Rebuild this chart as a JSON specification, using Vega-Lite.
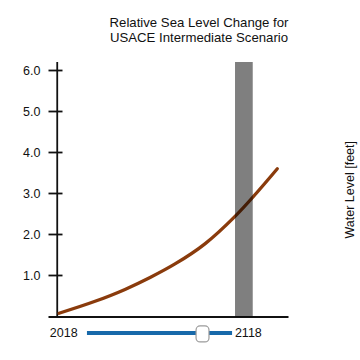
{
  "$schema": "https://vega.github.io/schema/vega-lite/v6.json",
  "autosize": {"type": "none"},
  "width": 240,
  "height": 254.5,
  "padding": {"left": 48, "top": 62, "right": 72, "bottom": 43.5},
  "background": "white",
  "config": {
    "font": "Liberation Sans",
    "view": {"stroke": null},
    "axis": {"grid": false, "labelColor": "#111", "titleColor": "#111", "labelFont": "Liberation Sans", "titleFont": "Liberation Sans"}
  },
  "title": {
    "text": ["Relative Sea Level Change for", "USACE Intermediate Scenario"],
    "fontSize": 13.2,
    "fontWeight": "normal",
    "color": "#111",
    "lineHeight": 15,
    "anchor": "middle",
    "frame": "group",
    "dx": 31,
    "offset": 16
  },
  "datasets": {
    "curve": [
      {"year": 2019.0, "level": 0.08},
      {"year": 2038.5, "level": 0.37},
      {"year": 2054.7, "level": 0.66},
      {"year": 2068.3, "level": 0.95},
      {"year": 2081.8, "level": 1.28},
      {"year": 2098.0, "level": 1.77},
      {"year": 2114.3, "level": 2.44},
      {"year": 2137.2, "level": 3.60}
    ],
    "axisline": [{"year": 2018, "y0": 0, "y1": 6.2}],
    "bar": [{"start": 2114.3, "end": 2123.9, "y0": 0, "y1": 6.2}],
    "slider": [{"start": 2034.1, "end": 2112.7, "pos": -0.4}],
    "knob": [{"start": 2093.2, "end": 2100.2, "low": -0.62, "high": -0.23}]
  },
  "resolve": {"axis": {"y": "independent"}},
  "layer": [
    {
      "data": {"name": "axisline"},
      "mark": {"type": "rule", "color": "#111", "strokeWidth": 1.8},
      "encoding": {
        "x": {"field": "year", "type": "quantitative", "scale": {"domain": [2013, 2143], "nice": false, "zero": false},
              "axis": {"title": null, "values": [2018, 2118], "format": "d", "tickSize": 0, "domainColor": "#111", "domainWidth": 1.8, "labelFontSize": 12.5, "labelPadding": 10, "labelOffset": 6}},
        "y": {"field": "y0", "type": "quantitative", "scale": {"domain": [0, 6.2], "nice": false}, "axis": null},
        "y2": {"field": "y1"}
      }
    },
    {
      "data": {"name": "curve"},
      "mark": {"type": "line", "color": "#8a3b0c", "strokeWidth": 3.3, "interpolate": "monotone", "strokeCap": "round"},
      "encoding": {
        "x": {"field": "year", "type": "quantitative", "scale": {"domain": [2013, 2143], "nice": false, "zero": false},
              "axis": {"title": null, "values": [2018, 2118], "format": "d", "tickSize": 0, "domainColor": "#111", "domainWidth": 1.8, "labelFontSize": 12.5, "labelPadding": 10, "labelOffset": 6}},
        "y": {"field": "level", "type": "quantitative", "scale": {"domain": [0, 6.2], "nice": false},
              "axis": {"orient": "left", "title": null, "values": [1, 2, 3, 4, 5, 6], "format": ".1f", "domain": false, "offset": -14, "tickSize": 14, "tickWidth": 1.8, "tickColor": "#111", "labelPadding": 8, "labelFontSize": 12.5}}
      }
    },
    {
      "data": {"name": "bar"},
      "mark": {"type": "rect", "color": "#000000", "opacity": 0.5},
      "encoding": {
        "x": {"field": "start", "type": "quantitative", "scale": {"domain": [2013, 2143], "nice": false, "zero": false},
              "axis": {"title": null, "values": [2018, 2118], "format": "d", "tickSize": 0, "domainColor": "#111", "domainWidth": 1.8, "labelFontSize": 12.5, "labelPadding": 10, "labelOffset": 6}},
        "x2": {"field": "end"},
        "y": {"field": "y0", "type": "quantitative", "scale": {"domain": [0, 6.2], "nice": false},
              "axis": {"orient": "right", "title": "Water Level [feet]", "titleAngle": 270, "titleFontSize": 12.5, "titleFontWeight": "normal", "domain": false, "ticks": false, "labels": false, "titlePadding": 68}},
        "y2": {"field": "y1"}
      }
    },
    {
      "data": {"name": "slider"},
      "mark": {"type": "rule", "color": "#1769aa", "strokeWidth": 4},
      "encoding": {
        "x": {"field": "start", "type": "quantitative", "scale": {"domain": [2013, 2143], "nice": false, "zero": false},
              "axis": {"title": null, "values": [2018, 2118], "format": "d", "tickSize": 0, "domainColor": "#111", "domainWidth": 1.8, "labelFontSize": 12.5, "labelPadding": 10, "labelOffset": 6}},
        "x2": {"field": "end"},
        "y": {"field": "pos", "type": "quantitative", "scale": {"domain": [0, 6.2], "nice": false}, "axis": null}
      }
    },
    {
      "data": {"name": "knob"},
      "mark": {"type": "rect", "fill": "white", "stroke": "#9a9a9a", "strokeWidth": 1.2, "cornerRadius": 4},
      "encoding": {
        "x": {"field": "start", "type": "quantitative", "scale": {"domain": [2013, 2143], "nice": false, "zero": false},
              "axis": {"title": null, "values": [2018, 2118], "format": "d", "tickSize": 0, "domainColor": "#111", "domainWidth": 1.8, "labelFontSize": 12.5, "labelPadding": 10, "labelOffset": 6}},
        "x2": {"field": "end"},
        "y": {"field": "low", "type": "quantitative", "scale": {"domain": [0, 6.2], "nice": false}, "axis": null},
        "y2": {"field": "high"}
      }
    }
  ]
}
